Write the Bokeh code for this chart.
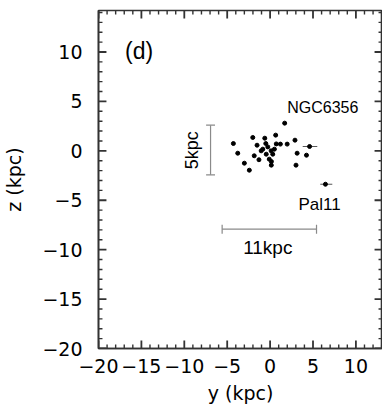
from bokeh.plotting import figure
from bokeh.models import FixedTicker, Range1d
from bokeh.core.properties import value
from bokeh.embed import file_html
from bokeh.resources import INLINE

# ---- data ----
y_kpc = [1.7, -4.28, -3.77, -3.0, -2.42, -2.02, -0.62, 0.65, 2.9, 1.99, 1.2,
         4.6, 3.15, 4.24, 3.02, 0.14, -1.52, -1.04, -0.5, -1.85, -1.3, -0.45,
         0.12, 0.5, 0.31, -0.1, 0.72, -0.27, -0.85, 0.15, 6.45]
z_kpc = [2.8, 0.74, -0.24, -1.25, -1.96, 1.35, 1.28, 1.59, 1.08, 0.68, 0.68,
         0.44, -0.24, -0.44, -1.45, -1.45, 0.57, 0.0, 0.74, -0.5, -0.9, -0.34,
         0.0, 0.17, -0.34, -0.84, 0.7, 0.4, 0.17, -1.08, -3.38]
err_z = [0.44, -3.38]
err_lo = [3.8, 5.85]
err_hi = [5.5, 7.25]

xticks = [-20, -15, -10, -5, 0, 5, 10]
yticks = [-20, -15, -10, -5, 0, 5, 10]
xminor = [v for v in range(-20, 14) if v % 5 != 0]
yminor = [v for v in range(-20, 15) if v % 5 != 0]

X0, X1 = -20, 13.1
Y0, Y1 = -20, 14.2
W, H = 382, 416
BL, BR, BT, BB = 96, 0, 10, 68

FONT = "DejaVu Sans"
LFONT = "Liberation Sans"
TICK = "#333333"

p = figure(width=W, height=H, output_backend="svg", toolbar_location=None,
           x_range=Range1d(X0, X1), y_range=Range1d(Y0, Y1),
           min_border_left=BL, min_border_right=BR, min_border_top=BT,
           min_border_bottom=BB, x_axis_label="y (kpc)", y_axis_label="z (kpc)")
p.background_fill_color = "white"
p.border_fill_color = "white"
p.outline_line_color = "#333333"
p.outline_line_width = 1.6
p.xgrid.visible = False
p.ygrid.visible = False

for ax, ticks in ((p.xaxis[0], xticks), (p.yaxis[0], yticks)):
    ax.ticker = FixedTicker(ticks=ticks, minor_ticks=[])
    ax.major_tick_in = 0
    ax.major_tick_out = 0
    ax.minor_tick_in = 0
    ax.minor_tick_out = 0
    ax.axis_line_color = "#333333"
    ax.axis_line_width = 1.6
    ax.major_label_text_font = FONT
    ax.major_label_text_font_size = "19px"
    ax.major_label_text_color = "black"
    ax.axis_label_text_font = FONT
    ax.axis_label_text_font_size = "19px"
    ax.axis_label_text_font_style = "normal"
    ax.axis_label_text_color = "black"

p.xaxis[0].major_label_standoff = 10
p.xaxis[0].axis_label_standoff = 6
p.yaxis[0].major_label_standoff = 16
p.yaxis[0].axis_label_standoff = 14

# inward tick marks on all four frame edges (lengths given in pixels)
ux = (X1 - X0) / (W - BL - BR)   # data units per pixel, x
uy = (Y1 - Y0) / (H - BT - BB)   # data units per pixel, y

def xticks_edges(vals, px, width):
    n = len(vals)
    p.segment(x0=vals, x1=vals, y0=[Y0] * n, y1=[Y0 + px * uy] * n,
              line_color=TICK, line_width=width)
    p.segment(x0=vals, x1=vals, y0=[Y1] * n, y1=[Y1 - px * uy] * n,
              line_color=TICK, line_width=width)

def yticks_edges(vals, px, width):
    n = len(vals)
    p.segment(x0=[X0] * n, x1=[X0 + px * ux] * n, y0=vals, y1=vals,
              line_color=TICK, line_width=width)
    p.segment(x0=[X1] * n, x1=[X1 - px * ux] * n, y0=vals, y1=vals,
              line_color=TICK, line_width=width)

xticks_edges(xticks, 8, 1.8)
xticks_edges(xminor, 4, 1.4)
yticks_edges(yticks, 8, 1.8)
yticks_edges(yminor, 4, 1.4)

# error bars
p.segment(x0=err_lo, x1=err_hi, y0=err_z, y1=err_z, line_color="#555555", line_width=1)
# points
p.scatter(x=y_kpc, y=z_kpc, size=4, marker="circle", fill_color="black",
          line_color="black")

# scale bars
bar_col = "#8a8a8a"
p.segment(x0=[-6.94], x1=[-6.94], y0=[-2.43], y1=[2.6], line_color=bar_col, line_width=1.2)
p.segment(x0=[-7.46, -7.46], x1=[-6.42, -6.42], y0=[-2.43, 2.6], y1=[-2.43, 2.6],
          line_color=bar_col, line_width=1.2)
p.segment(x0=[-5.59], x1=[5.41], y0=[-7.93], y1=[-7.93], line_color=bar_col, line_width=1.2)
p.segment(x0=[-5.59, 5.41], x1=[-5.59, 5.41], y0=[-8.38, -8.38], y1=[-7.48, -7.48],
          line_color=bar_col, line_width=1.2)

# labels
p.text(x=[-16.9], y=[10.1], text=["(d)"], text_font=value(LFONT),
       text_font_size="23px", text_align="left", text_baseline="middle", text_color="black")
p.text(x=[2.0], y=[4.4], text=["NGC6356"], text_font=value(LFONT),
       text_font_size="16px", text_align="left", text_baseline="middle", text_color="black")
p.text(x=[3.3], y=[-5.4], text=["Pal11"], text_font=value(LFONT),
       text_font_size="17px", text_align="left", text_baseline="middle", text_color="black")
p.text(x=[-0.27], y=[-9.75], text=["11kpc"], text_font=value(LFONT),
       text_font_size="19px", text_align="center", text_baseline="middle", text_color="black")
p.text(x=[-9.1], y=[0.05], text=["5kpc"], text_font=value(LFONT), angle=1.5708,
       text_font_size="18px", text_align="center", text_baseline="middle", text_color="black")

open("out.html", "w").write(file_html(p, INLINE))
